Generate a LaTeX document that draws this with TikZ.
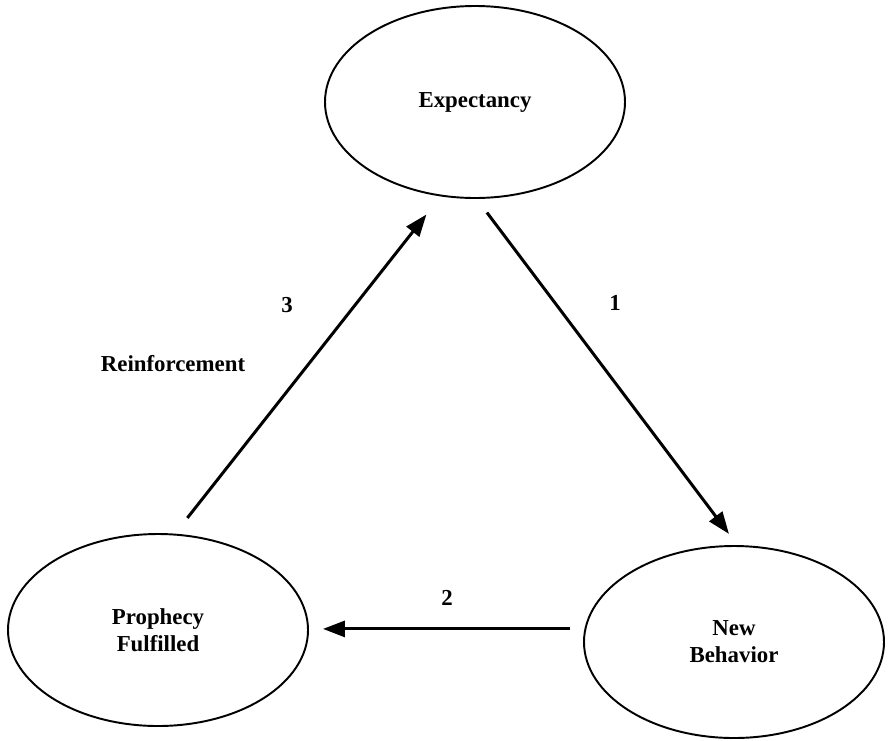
\documentclass[tikz,border=0pt]{standalone}
\usepackage{fontspec}
\setmainfont{Liberation Serif}
\usetikzlibrary{arrows.meta, shapes.geometric}

\begin{document}
\begin{tikzpicture}[
	state/.style={draw, line width=1.1pt, ellipse, minimum width=6cm, minimum height=3.84cm, inner sep=0pt, align=center, font=\fontsize{13}{15.5}\selectfont\bfseries},
	flow/.style={line width=1.7pt, -{Triangle[length=4.4mm, width=3.2mm]}},
	tag/.style={font=\fontsize{13}{15.5}\selectfont\bfseries}
	]
		\useasboundingbox (0,0) rectangle (17.78,-14.8);

\node[state] (ex) at (9.5,-2.04) {Expectancy};
\node[state] (pf) at (3.16,-12.6) {Prophecy\\Fulfilled};
\node[state] (nb) at (14.68,-12.84) {New\\Behavior};

\draw[flow, shorten <=0.4cm, shorten >=0.46cm] (pf.80) -- (ex.250);
\draw[flow, shorten <=0.34cm, shorten >=0.28cm] (ex.271) -- (nb.88);
\draw[flow, shorten <=0.28cm, shorten >=0.28cm] (nb.175) -- (nb.175 -| pf.east);

\node[tag] (n1) at (12.3,-6.06) {1};
\node[tag] (n2) at (8.94,-11.96) {2};
\node[tag] (n3) at (5.74,-6.1) {3};
\node[tag] (reinf) at (3.46,-7.28) {Reinforcement};
	\end{tikzpicture}
\end{document}
